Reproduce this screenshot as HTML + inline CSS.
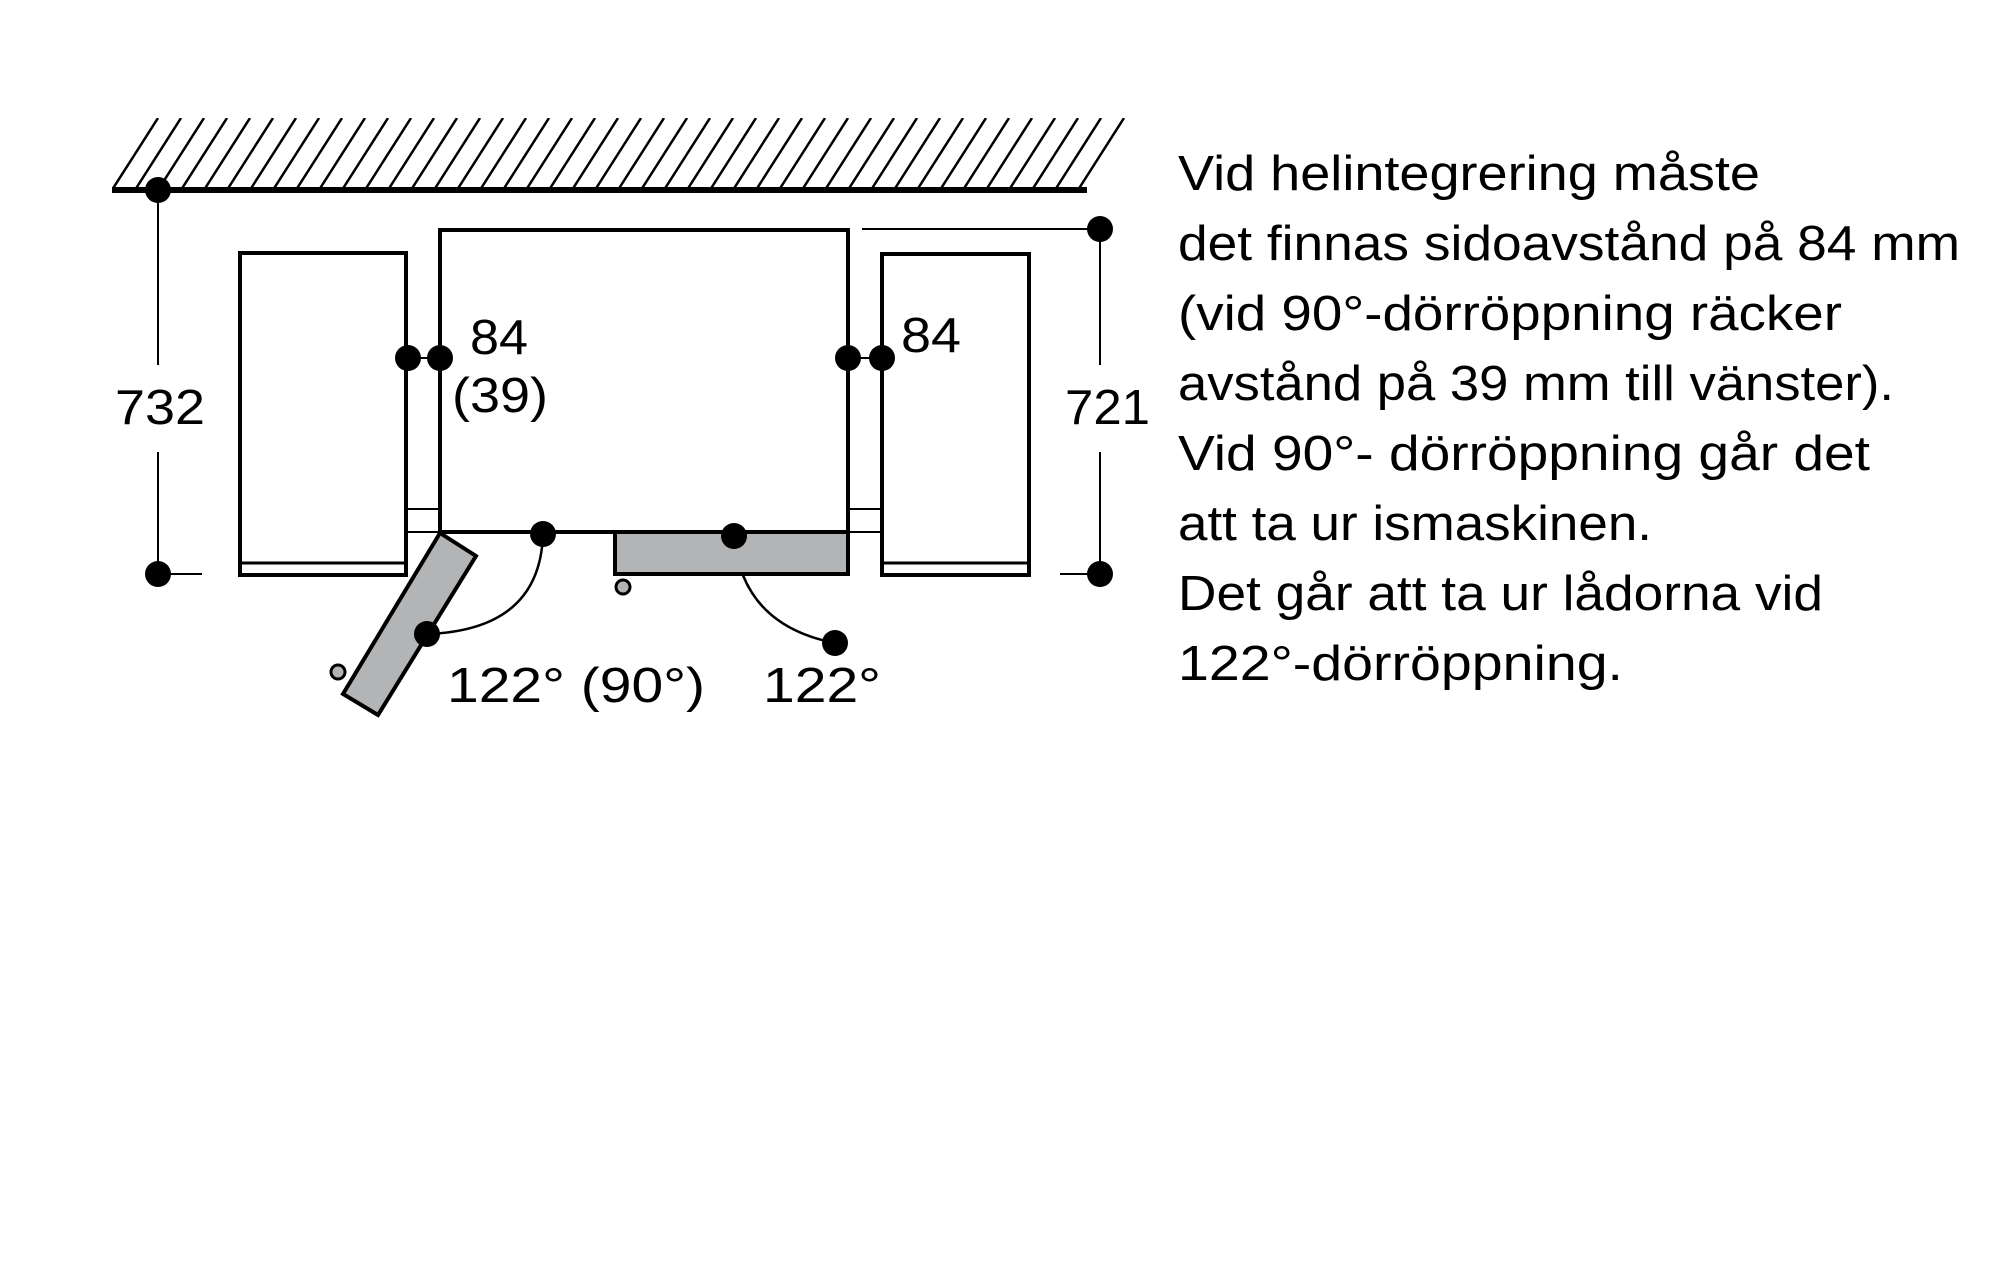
<!DOCTYPE html>
<html><head><meta charset="utf-8"><style>
html,body{margin:0;padding:0;background:#fff;}
svg{display:block;}
text{font-family:"Liberation Sans",sans-serif;fill:#000;}
</style></head><body>
<svg width="2000" height="1266" viewBox="0 0 2000 1266" xmlns="http://www.w3.org/2000/svg">
<defs><clipPath id="hc"><rect x="112" y="118" width="1015" height="72"/></clipPath></defs>
<path clip-path="url(#hc)" stroke="#000" stroke-width="2.5" fill="none" d="M112 190l46 -72M135 190l46 -72M158 190l46 -72M181 190l46 -72M204 190l46 -72M227 190l46 -72M250 190l46 -72M273 190l46 -72M296 190l46 -72M319 190l46 -72M342 190l46 -72M365 190l46 -72M388 190l46 -72M411 190l46 -72M434 190l46 -72M457 190l46 -72M480 190l46 -72M503 190l46 -72M526 190l46 -72M549 190l46 -72M572 190l46 -72M595 190l46 -72M618 190l46 -72M641 190l46 -72M664 190l46 -72M687 190l46 -72M710 190l46 -72M733 190l46 -72M756 190l46 -72M779 190l46 -72M802 190l46 -72M825 190l46 -72M848 190l46 -72M871 190l46 -72M894 190l46 -72M917 190l46 -72M940 190l46 -72M963 190l46 -72M986 190l46 -72M1009 190l46 -72M1032 190l46 -72M1055 190l46 -72M1078 190l46 -72"/>
<line x1="112" y1="190" x2="1087" y2="190" stroke="#000" stroke-width="6"/>
<g fill="none" stroke="#000" stroke-width="4">
<rect x="240" y="253" width="166" height="322"/>
<line x1="240" y1="563" x2="406" y2="563" stroke-width="3"/>
<rect x="440" y="230" width="408" height="302"/>
<rect x="882" y="254" width="147" height="321"/>
<line x1="882" y1="563" x2="1029" y2="563" stroke-width="3"/>
</g>
<g stroke="#000" stroke-width="2" fill="none">
<line x1="406" y1="509" x2="440" y2="509"/>
<line x1="406" y1="532" x2="440" y2="532"/>
<line x1="848" y1="509" x2="882" y2="509"/>
<line x1="848" y1="532" x2="882" y2="532"/>
<line x1="158" y1="190" x2="158" y2="365"/>
<line x1="158" y1="452" x2="158" y2="574"/>
<line x1="158" y1="574" x2="202" y2="574"/>
<line x1="862" y1="229" x2="1100" y2="229"/>
<line x1="1100" y1="229" x2="1100" y2="365"/>
<line x1="1100" y1="452" x2="1100" y2="574"/>
<line x1="1060" y1="574" x2="1100" y2="574"/>
<line x1="408" y1="358" x2="440" y2="358"/>
<line x1="848" y1="358" x2="882" y2="358"/>
<path d="M543 534 Q540 630 427 634" stroke-width="2.5"/>
<path d="M734 536 Q742 625 835 643" stroke-width="2.5"/>
</g>
<rect x="615" y="532" width="233" height="42" fill="#b3b4b5" stroke="#000" stroke-width="4"/>
<polygon points="440,533 476,556 378,715 343,694" fill="#b3b4b5" stroke="#000" stroke-width="4"/>
<circle cx="623" cy="587" r="7" fill="#b3b4b5" stroke="#000" stroke-width="3"/>
<circle cx="338" cy="672" r="7" fill="#b3b4b5" stroke="#000" stroke-width="3"/>
<g fill="#000">
<circle cx="158" cy="190" r="13"/>
<circle cx="158" cy="574" r="13"/>
<circle cx="1100" cy="229" r="13"/>
<circle cx="1100" cy="574" r="13"/>
<circle cx="408" cy="358" r="13"/>
<circle cx="440" cy="358" r="13"/>
<circle cx="848" cy="358" r="13"/>
<circle cx="882" cy="358" r="13"/>
<circle cx="543" cy="534" r="13"/>
<circle cx="734" cy="536" r="13"/>
<circle cx="427" cy="634" r="13"/>
<circle cx="835" cy="643" r="13"/>
</g>
<g font-size="49">
<text x="115" y="424" textLength="90" lengthAdjust="spacingAndGlyphs">732</text>
<text x="1065" y="424" textLength="85" lengthAdjust="spacingAndGlyphs">721</text>
<text x="470" y="354" textLength="58" lengthAdjust="spacingAndGlyphs">84</text>
<text x="452" y="412" textLength="96" lengthAdjust="spacingAndGlyphs">(39)</text>
<text x="901" y="352" textLength="60" lengthAdjust="spacingAndGlyphs">84</text>
<text x="447" y="702" textLength="258" lengthAdjust="spacingAndGlyphs">122° (90°)</text>
<text x="763" y="702" textLength="118" lengthAdjust="spacingAndGlyphs">122°</text>
</g>
<g font-size="49">
<text x="1178" y="190" textLength="582" lengthAdjust="spacingAndGlyphs">Vid helintegrering måste</text>
<text x="1178" y="260" textLength="782" lengthAdjust="spacingAndGlyphs">det finnas sidoavstånd på 84 mm</text>
<text x="1178" y="330" textLength="664" lengthAdjust="spacingAndGlyphs">(vid 90°-dörröppning räcker</text>
<text x="1178" y="400" textLength="716" lengthAdjust="spacingAndGlyphs">avstånd på 39 mm till vänster).</text>
<text x="1178" y="470" textLength="692" lengthAdjust="spacingAndGlyphs">Vid 90°- dörröppning går det</text>
<text x="1178" y="540" textLength="474" lengthAdjust="spacingAndGlyphs">att ta ur ismaskinen.</text>
<text x="1178" y="610" textLength="645" lengthAdjust="spacingAndGlyphs">Det går att ta ur lådorna vid</text>
<text x="1178" y="680" textLength="445" lengthAdjust="spacingAndGlyphs">122°-dörröppning.</text>
</g>
</svg>
</body></html>
